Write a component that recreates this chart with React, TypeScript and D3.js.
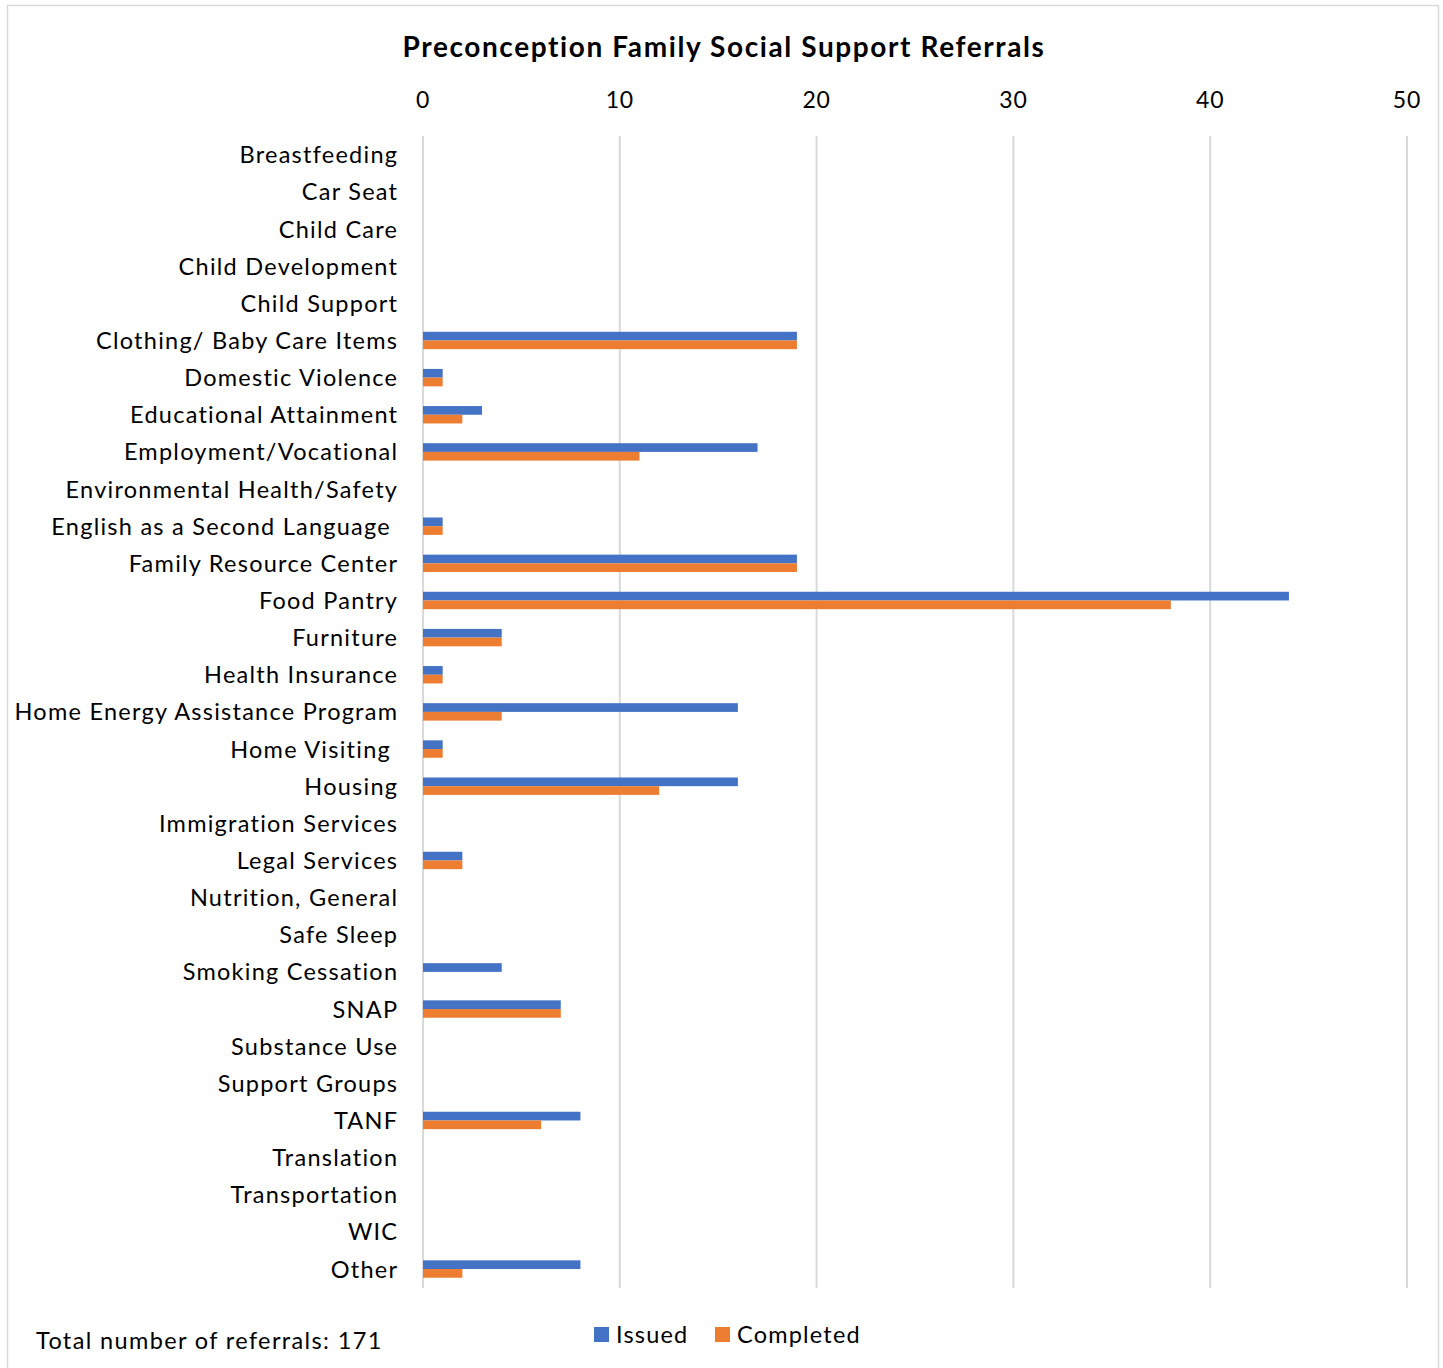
import React from "react";
import * as d3 from "d3";

const categories = [
  "Breastfeeding", "Car Seat", "Child Care", "Child Development", "Child Support",
  "Clothing/ Baby Care Items", "Domestic Violence", "Educational Attainment",
  "Employment/Vocational", "Environmental Health/Safety", "English as a Second Language ",
  "Family Resource Center", "Food Pantry", "Furniture", "Health Insurance",
  "Home Energy Assistance Program", "Home Visiting ", "Housing", "Immigration Services",
  "Legal Services", "Nutrition, General", "Safe Sleep", "Smoking Cessation", "SNAP",
  "Substance Use", "Support Groups", "TANF", "Translation", "Transportation", "WIC", "Other",
];
const issued = [0, 0, 0, 0, 0, 19, 1, 3, 17, 0, 1, 19, 44, 4, 1, 16, 1, 16, 0, 2, 0, 0, 4, 7, 0, 0, 8, 0, 0, 0, 8];
const completed = [0, 0, 0, 0, 0, 19, 1, 2, 11, 0, 1, 19, 38, 4, 1, 4, 1, 12, 0, 2, 0, 0, 0, 7, 0, 0, 6, 0, 0, 0, 2];
const seriesNames = ["Issued", "Completed"];
const seriesColors = ["#4472C4", "#ED7D31"];
const xTicks = [0, 10, 20, 30, 40, 50];
const title = "Preconception Family Social Support Referrals";
const totalNote = "Total number of referrals: 171";

const FONT = "Lato, 'Open Sans', sans-serif";

export default function App() {
  const W = 1443, H = 1368;
  const x = d3.scaleLinear().domain([0, 50]).range([423, 1407]);
  const y = d3.scaleBand<string>().domain(categories).range([136.2, 1287.6]);
  const barH = 8.7;
  const series = [issued, completed];
  const ls = 1.25;
  return (
    <svg width={W} height={H} style={{ position: "absolute", left: 0, top: 0, background: "#fff" }}>
      <rect x={7.5} y={5.5} width={1431} height={1375} fill="#fff" stroke="#d9d9d9" strokeWidth={1.5} />
      <text x={724} y={57} textAnchor="middle" fontFamily={FONT} fontWeight={700} fontSize={28} letterSpacing={1.6} fill="#000">{title}</text>
      {xTicks.map((t) => (
        <g key={t}>
          <line x1={x(t)} x2={x(t)} y1={136} y2={1288} stroke="#d9d9d9" strokeWidth={2} />
          <text x={x(t)} y={108} textAnchor="middle" fontFamily={FONT} fontSize={23} letterSpacing={0.8} fill="#000">{t}</text>
        </g>
      ))}
      {categories.map((c, i) => {
        const cy = (y(c) as number) + y.bandwidth() / 2;
        return (
          <g key={c}>
            <text x={397 + ls} y={cy + 8.5} textAnchor="end" fontFamily={FONT} fontSize={23.5} letterSpacing={ls} fill="#000" style={{ whiteSpace: "pre" }}>{c}</text>
            {series.map((s, k) =>
              s[i] > 0 ? (
                <rect key={k} x={x(0)} y={cy - barH + k * barH} width={x(s[i]) - x(0)} height={barH} fill={seriesColors[k]} />
              ) : null
            )}
          </g>
        );
      })}
      <text x={36} y={1349} fontFamily={FONT} fontSize={23.5} letterSpacing={1.37} fill="#000">{totalNote}</text>
      {seriesNames.map((n, k) => {
        const lx = k === 0 ? 594 : 715;
        return (
          <g key={n}>
            <rect x={lx} y={1327} width={15} height={15} fill={seriesColors[k]} />
            <text x={lx + 22} y={1343} fontFamily={FONT} fontSize={23.5} letterSpacing={1.2} fill="#000">{n}</text>
          </g>
        );
      })}
    </svg>
  );
}
